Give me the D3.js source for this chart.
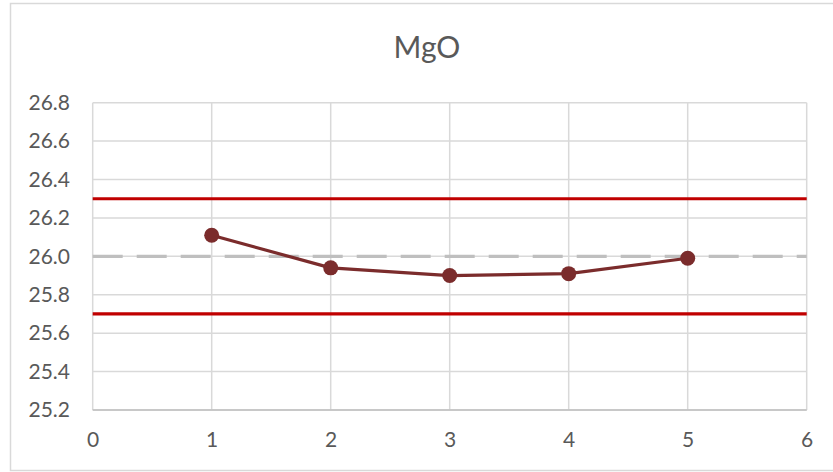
<!DOCTYPE html>
<html>
<head>
<meta charset="utf-8">
<script src="https://cdn.jsdelivr.net/npm/d3@7"></script>
<style>
  html, body { margin: 0; padding: 0; background: #fff; }
  svg { display: block; }
</style>
</head>
<body>
<svg id="chart" width="833" height="472"></svg>
<script>
// MgO control chart: measured values with centre line and control limits
const title = "MgO";
const samples = [1, 2, 3, 4, 5];
const mgoValues = [26.11, 25.94, 25.90, 25.91, 25.99];
const centerLine = 26.0;
const upperLimit = 26.3;
const lowerLimit = 25.7;
const xTicks = [0, 1, 2, 3, 4, 5, 6];
const yTicks = [25.2, 25.4, 25.6, 25.8, 26.0, 26.2, 26.4, 26.6, 26.8];

const svg = d3.select("#chart");
const W = 833, H = 472;
const font = "Lato, 'Open Sans', sans-serif";

// outer chart frame
svg.append("rect")
  .attr("x", 10.5).attr("y", 3.5)
  .attr("width", W).attr("height", 467)
  .attr("fill", "#fff").attr("stroke", "#d9d9d9").attr("stroke-width", 1.5);

const plot = { left: 92.7, right: 806.7, top: 102.7, bottom: 410 };

const x = d3.scaleLinear().domain([0, 6]).range([plot.left, plot.right]);
const y = d3.scaleLinear().domain([25.2, 26.8]).range([plot.bottom, plot.top]);

// title
svg.append("text")
  .attr("x", 427).attr("y", 58)
  .attr("text-anchor", "middle")
  .attr("font-family", font).attr("font-size", 30)
  .attr("fill", "#595959")
  .text(title);

// horizontal gridlines
svg.append("g")
  .selectAll("line")
  .data(yTicks)
  .join("line")
  .attr("x1", plot.left).attr("x2", plot.right)
  .attr("y1", d => y(d)).attr("y2", d => y(d))
  .attr("stroke", "#d9d9d9").attr("stroke-width", 1.5);

// vertical gridlines
svg.append("g")
  .selectAll("line")
  .data(xTicks)
  .join("line")
  .attr("x1", d => x(d)).attr("x2", d => x(d))
  .attr("y1", plot.top).attr("y2", plot.bottom)
  .attr("stroke", "#d9d9d9").attr("stroke-width", 1.5);

// bottom axis line
svg.append("line")
  .attr("x1", plot.left).attr("x2", plot.right)
  .attr("y1", plot.bottom).attr("y2", plot.bottom)
  .attr("stroke", "#bfbfbf").attr("stroke-width", 1.5);

// y tick labels
const yAxis = d3.axisLeft(y).tickValues(yTicks).tickFormat(d3.format(".1f")).tickSize(0).tickPadding(0);
const gy = svg.append("g").attr("transform", `translate(70,0)`).call(yAxis);
gy.select(".domain").remove();
gy.selectAll("text")
  .attr("font-family", font).attr("font-size", 21)
  .attr("fill", "#595959");

// x tick labels
const xAxis = d3.axisBottom(x).tickValues(xTicks).tickFormat(d3.format("d")).tickSize(0).tickPadding(0);
const gx = svg.append("g").attr("transform", `translate(0,${plot.bottom + 22})`).call(xAxis);
gx.select(".domain").remove();
gx.selectAll("text")
  .attr("font-family", font).attr("font-size", 21)
  .attr("fill", "#595959");

// control limits and centre line across the full x range
const hline = (val, color, dash) => svg.append("line")
  .attr("x1", x(0)).attr("x2", x(6))
  .attr("y1", y(val)).attr("y2", y(val))
  .attr("stroke", color).attr("stroke-width", 3.2)
  .attr("stroke-dasharray", dash || null);

hline(centerLine, "#bfbfbf", "30 14");
hline(upperLimit, "#c00000");
hline(lowerLimit, "#c00000");

// measured series
const data = samples.map((s, i) => ({ s, v: mgoValues[i] }));
svg.append("path")
  .datum(data)
  .attr("fill", "none")
  .attr("stroke", "#7b2c2c").attr("stroke-width", 3.2)
  .attr("stroke-linejoin", "round")
  .attr("d", d3.line().x(d => x(d.s)).y(d => y(d.v)));

svg.append("g")
  .selectAll("circle")
  .data(data)
  .join("circle")
  .attr("cx", d => x(d.s)).attr("cy", d => y(d.v))
  .attr("r", 7.5)
  .attr("fill", "#7b2c2c");
</script>
</body>
</html>
